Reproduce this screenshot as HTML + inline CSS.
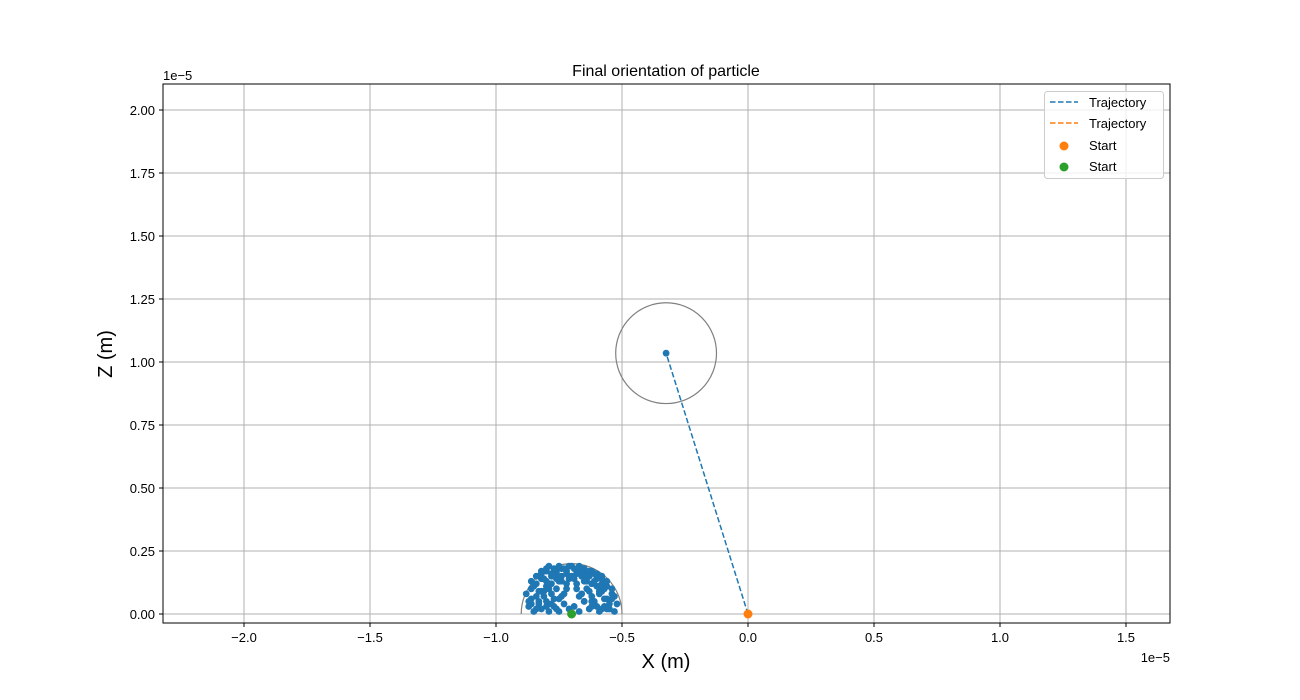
<!DOCTYPE html>
<html><head><meta charset="utf-8"><style>
body{margin:0;background:#fff}
svg{display:block;font-family:"Liberation Sans","DejaVu Sans",sans-serif}
</style></head><body>
<svg id="chart" width="1300" height="700">
<g id="grid"></g>
<g id="marks"></g>
<rect x="163" y="84" width="1007" height="539" fill="none" stroke="#000" stroke-width="1"/>
<g id="ticks"></g>
<text x="666" y="76" text-anchor="middle" font-size="16">Final orientation of particle</text>
<text x="666" y="668" text-anchor="middle" font-size="20">X (m)</text>
<text x="112" y="354" text-anchor="middle" font-size="20" transform="rotate(-90 112 354)">Z (m)</text>
<text x="163" y="80" font-size="13">1e−5</text>
<text x="1170" y="662" text-anchor="end" font-size="13">1e−5</text>
<g>
<rect x="1044.5" y="91.5" width="119" height="87" rx="3" fill="#fff" fill-opacity="0.8" stroke="#ccc"/>
<line x1="1050" y1="102" x2="1078" y2="102" stroke="#1f77b4" stroke-width="1.5" stroke-dasharray="5.5,2.5"/>
<text x="1089" y="107" font-size="13">Trajectory</text>
<line x1="1050" y1="123" x2="1078" y2="123" stroke="#ff7f0e" stroke-width="1.5" stroke-dasharray="5.5,2.5"/>
<text x="1089" y="128" font-size="13">Trajectory</text>
<circle cx="1064" cy="146" r="4.5" fill="#ff7f0e"/>
<text x="1089" y="150" font-size="13">Start</text>
<circle cx="1064" cy="167" r="4.5" fill="#2ca02c"/>
<text x="1089" y="171" font-size="13">Start</text>
</g>
</svg>
<script>
const xTicks=[-2.0,-1.5,-1.0,-0.5,0.0,0.5,1.0,1.5];
const yTicks=[0.00,0.25,0.50,0.75,1.00,1.25,1.50,1.75,2.00];
const trajX=[0.0,-0.325];
const trajZ=[0.0,1.035];
const circleA=[-0.325,1.035,0.2];
const circleB=[-0.70,0.0,0.2];
const startOrange=[0.0,0.0];
const startGreen=[-0.70,0.0];
const dotsX=[-0.87,-0.86,-0.85,-0.83,-0.82,-0.80,-0.79,-0.77,-0.75,-0.73,-0.71,-0.69,-0.67,-0.65,-0.63,-0.61,-0.59,-0.57,-0.55,-0.53,
-0.88,-0.86,-0.84,-0.82,-0.80,-0.78,-0.76,-0.74,-0.66,-0.64,-0.62,-0.60,-0.58,-0.56,-0.54,-0.52,
-0.86,-0.84,-0.82,-0.80,-0.78,-0.76,-0.64,-0.62,-0.60,-0.58,-0.56,-0.54,
-0.84,-0.82,-0.80,-0.78,-0.76,-0.74,-0.72,-0.68,-0.66,-0.64,-0.62,-0.60,-0.58,-0.56,
-0.82,-0.80,-0.78,-0.76,-0.74,-0.72,-0.70,-0.68,-0.66,-0.64,-0.62,-0.60,-0.58,
-0.79,-0.77,-0.75,-0.73,-0.71,-0.69,-0.67,-0.65,-0.63,-0.61,
-0.74,-0.72,-0.70,-0.68,-0.66,-0.83,-0.57,-0.81,-0.59,-0.75,-0.65,-0.73,-0.67,-0.62,
-0.85,-0.83,-0.81,-0.79,-0.77,-0.63,-0.61,-0.59,-0.57,-0.55,-0.87,-0.53,-0.84,-0.56,-0.78,-0.62,-0.76,-0.60,
-0.81,-0.79,-0.61,-0.59,-0.77,-0.63,-0.71,-0.69,-0.75,-0.65,-0.86,-0.54,-0.68,-0.72,-0.80,-0.58];
const dotsZ=[0.03,0.06,0.01,0.04,0.02,0.05,0.01,0.03,0.01,0.04,0.02,0.03,0.01,0.05,0.02,0.04,0.01,0.03,0.02,0.01,
0.08,0.10,0.07,0.09,0.11,0.08,0.10,0.07,0.08,0.10,0.07,0.11,0.09,0.06,0.08,0.04,
0.13,0.12,0.14,0.13,0.12,0.14,0.13,0.12,0.14,0.12,0.11,0.10,
0.15,0.16,0.17,0.15,0.16,0.13,0.12,0.12,0.16,0.15,0.17,0.15,0.14,0.13,
0.17,0.18,0.16,0.17,0.18,0.17,0.19,0.17,0.18,0.16,0.17,0.16,0.15,
0.19,0.18,0.19,0.18,0.19,0.18,0.19,0.18,0.17,0.16,
0.15,0.16,0.15,0.16,0.15,0.05,0.06,0.09,0.09,0.06,0.05,0.08,0.07,0.03,
0.11,0.09,0.07,0.12,0.06,0.09,0.05,0.08,0.10,0.04,0.05,0.07,0.02,0.02,0.04,0.05,0.02,0.03,
0.14,0.10,0.13,0.11,0.15,0.15,0.14,0.14,0.13,0.13,0.04,0.06,0.10,0.10,0.03,0.02];
const L=163,R=1170,T=84,B=623;
const X=v=>748+v*252;
const Y=v=>614-v*252;
const NS='http://www.w3.org/2000/svg';
function mk(tag,attrs,parent){const e=document.createElementNS(NS,tag);for(const k in attrs)e.setAttribute(k,attrs[k]);parent.appendChild(e);return e;}
const grid=document.getElementById('grid'),ticks=document.getElementById('ticks'),marks=document.getElementById('marks');
xTicks.forEach(v=>{const x=X(v);
const g=mk('line',{x1:x,x2:x,y1:T,y2:B,stroke:'#b0b0b0','stroke-width':1},grid);


mk('line',{x1:x,x2:x,y1:B,y2:B+4,stroke:'#000'},ticks);
const t=mk('text',{x:x,y:B+19,'text-anchor':'middle','font-size':13},ticks);t.textContent=v.toFixed(1).replace('-','−');

});
yTicks.forEach(v=>{const y=Y(v);
const g=mk('line',{x1:L,x2:R,y1:y,y2:y,stroke:'#b0b0b0','stroke-width':1},grid);


mk('line',{x1:L-4,x2:L,y1:y,y2:y,stroke:'#000'},ticks);
const t=mk('text',{x:L-8,y:y+5,'text-anchor':'end','font-size':13},ticks);t.textContent=v.toFixed(2);

});
const cA=mk('circle',{cx:X(circleA[0]),cy:Y(circleA[1]),r:circleA[2]*252,fill:'none',stroke:'#808080','stroke-width':1.2},marks);


const cB=mk('path',{d:`M${X(circleB[0]-circleB[2])},${Y(0)} A${circleB[2]*252},${circleB[2]*252} 0 0 1 ${X(circleB[0]+circleB[2])},${Y(0)}`,fill:'none',stroke:'#808080','stroke-width':1.2},marks);


dotsX.forEach((v,i)=>{const d=mk('circle',{cx:X(v),cy:Y(dotsZ[i]),r:3.4,fill:'#1f77b4'},marks);

});
const tr=mk('polyline',{points:trajX.map((v,i)=>X(v)+','+Y(trajZ[i])).join(' '),fill:'none',stroke:'#1f77b4','stroke-width':1.5,'stroke-dasharray':'5.5,2.5'},marks);


const ep=mk('circle',{cx:X(trajX[1]),cy:Y(trajZ[1]),r:3.4,fill:'#1f77b4'},marks);


const so=mk('circle',{cx:X(startOrange[0]),cy:Y(startOrange[1]),r:4.5,fill:'#ff7f0e'},marks);


const sg=mk('circle',{cx:X(startGreen[0]),cy:Y(startGreen[1]),r:4.5,fill:'#2ca02c'},marks);


</script>
</body></html>
